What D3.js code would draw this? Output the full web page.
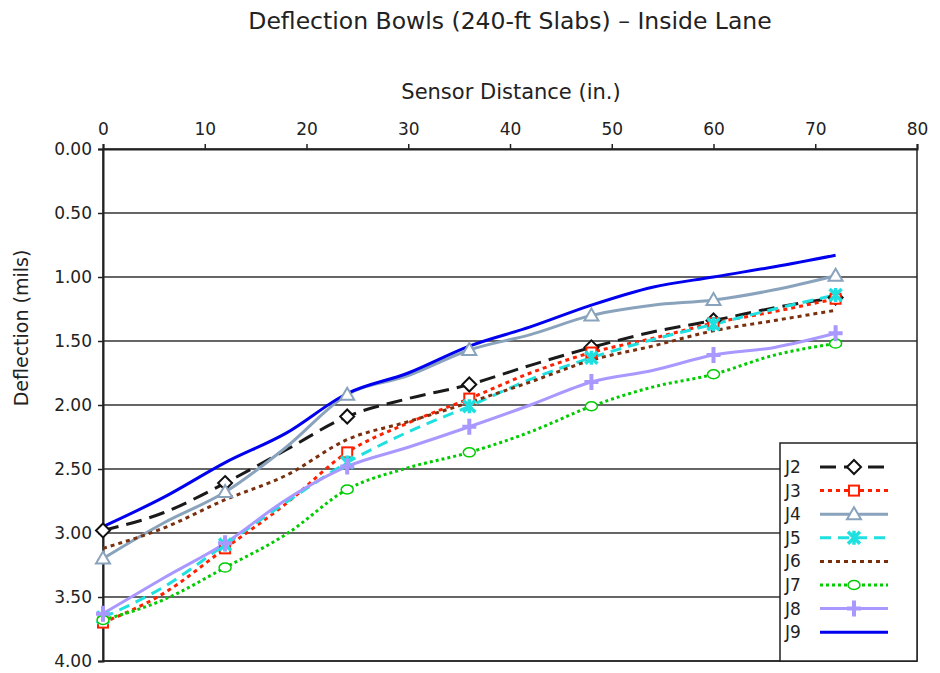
<!DOCTYPE html>
<html><head><meta charset="utf-8">
<script src="https://cdn.jsdelivr.net/npm/d3@7"></script>
<style>body{margin:0;background:#fff}svg{display:block;font-family:"DejaVu Sans",Arial,sans-serif}</style>
</head><body><svg id="c" width="940" height="673"></svg>
<script>
const distances = [0,6,12,18,24,30,36,42,48,54,60,66,72];
const markerDistances = [0,12,24,36,48,60,72];
const seriesNames = ["J2","J3","J4","J5","J6","J7","J8","J9"];
const J2 = [2.98,2.84,2.61,2.35,2.09,1.95,1.84,1.69,1.55,1.43,1.34,1.24,1.16];
const J3 = [3.70,3.47,3.12,2.77,2.37,2.14,1.95,1.75,1.59,1.48,1.36,1.27,1.17];
const J4 = [3.20,2.92,2.68,2.33,1.92,1.77,1.57,1.45,1.30,1.22,1.18,1.10,0.99];
const J5 = [3.66,3.42,3.09,2.76,2.45,2.21,2.01,1.80,1.63,1.49,1.37,1.25,1.14];
const J6 = [3.12,2.96,2.74,2.55,2.27,2.13,1.98,1.82,1.65,1.54,1.42,1.34,1.26];
const J7 = [3.68,3.52,3.27,3.01,2.66,2.49,2.37,2.21,2.01,1.86,1.76,1.61,1.52];
const J8 = [3.63,3.35,3.08,2.74,2.48,2.33,2.17,2.00,1.82,1.73,1.61,1.55,1.44];
const J9 = [2.95,2.72,2.45,2.22,1.91,1.75,1.54,1.39,1.22,1.08,1.00,0.92,0.83];
const xTicks = [0,10,20,30,40,50,60,70,80];
const yTicks = [0,0.5,1,1.5,2,2.5,3,3.5,4];

const values = {J2,J3,J4,J5,J6,J7,J8,J9};
const styles = {
  J2:{color:"#1a1a1a",dash:"16,8",width:3,marker:"diamond"},
  J3:{color:"#ff2000",dash:"4,4",width:3,marker:"square"},
  J4:{color:"#8aa3bd",dash:null,width:3,marker:"triangle"},
  J5:{color:"#1fe0e0",dash:"11,7",width:3,marker:"star"},
  J6:{color:"#7a300e",dash:"4,4",width:3,marker:null},
  J7:{color:"#00cc00",dash:"3,3",width:3,marker:"circle"},
  J8:{color:"#a898ff",dash:null,width:3,marker:"plus"},
  J9:{color:"#0000ee",dash:null,width:3,marker:null}
};

const svg = d3.select("#c");
const L=103,R=917,T=149,B=661;
const x = d3.scaleLinear().domain([0,80]).range([L,R]);
const y = d3.scaleLinear().domain([0,4]).range([T,B]);
const FONT = "DejaVu Sans, Arial, sans-serif";

svg.append("text").attr("x",510).attr("y",29).attr("text-anchor","middle")
  .attr("font-size",23.5).attr("fill","#222").text("Deflection Bowls (240-ft Slabs) – Inside Lane");
svg.append("text").attr("x",511).attr("y",99).attr("text-anchor","middle")
  .attr("font-size",21).attr("fill","#222").text("Sensor Distance (in.)");
svg.append("text").attr("transform","translate(28,328) rotate(-90)").attr("text-anchor","middle")
  .attr("font-size",19).attr("fill","#222").text("Deflection (mils)");

svg.append("g").selectAll("line").data(yTicks.slice(1)).join("line")
  .attr("x1",L).attr("x2",R).attr("y1",d=>y(d)).attr("y2",d=>y(d))
  .attr("stroke","#333").attr("stroke-width",1.3);

svg.append("rect").attr("x",L).attr("y",T).attr("width",R-L).attr("height",B-T)
  .attr("fill","none").attr("stroke","#222").attr("stroke-width",1.5);

const xAxis = svg.append("g").attr("transform",`translate(0,${T})`)
  .call(d3.axisTop(x).tickValues(xTicks).tickFormat(d3.format("d")).tickSize(5).tickPadding(9));
const yAxis = svg.append("g").attr("transform",`translate(${L},0)`)
  .call(d3.axisLeft(y).tickValues(yTicks).tickFormat(d3.format(".2f")).tickSize(5).tickPadding(6));
[xAxis,yAxis].forEach(a=>{
  a.select(".domain").attr("stroke","#222").attr("stroke-width",2);
  a.selectAll(".tick line").attr("stroke","#222").attr("stroke-width",1.5);
  a.selectAll(".tick text").attr("font-size",17).attr("fill","#222").attr("font-family",FONT);
});

const line = d3.line().x(d=>x(d[0])).y(d=>y(d[1])).curve(d3.curveMonotoneX);

function drawMarker(g, type, color, cx, cy){
  const m = g.append("g").attr("transform",`translate(${cx},${cy})`);
  if(type==="diamond") m.append("path").attr("d","M0,-7L7,0L0,7L-7,0Z").attr("fill","#fff").attr("stroke","#111").attr("stroke-width",2);
  if(type==="square") m.append("rect").attr("x",-5).attr("y",-5).attr("width",10).attr("height",10).attr("fill","#fff").attr("stroke",color).attr("stroke-width",2);
  if(type==="triangle") m.append("path").attr("d","M0,-7L7,5L-7,5Z").attr("fill","#fff").attr("stroke",color).attr("stroke-width",2);
  if(type==="circle") m.append("ellipse").attr("rx",6).attr("ry",4.5).attr("fill","#fff").attr("stroke",color).attr("stroke-width",1.5);
  if(type==="star") m.append("path").attr("d","M-6,-6L6,6M-6,6L6,-6M0,-7L0,7").attr("stroke",color).attr("stroke-width",3.5).attr("fill","none");
  if(type==="plus") m.append("path").attr("d","M-7,0L7,0M0,-8L0,8").attr("stroke",color).attr("stroke-width",4).attr("fill","none");
}

const plot = svg.append("g");
seriesNames.forEach(name=>{
  const s = styles[name];
  const pts = distances.map((d,i)=>[d,values[name][i]]);
  plot.append("path").datum(pts).attr("d",line).attr("fill","none")
    .attr("stroke",s.color).attr("stroke-width",s.width)
    .attr("stroke-dasharray",s.dash);
});
seriesNames.forEach(name=>{
  const s = styles[name];
  if(!s.marker) return;
  distances.forEach((d,i)=>{
    if(markerDistances.includes(d)) drawMarker(plot,s.marker,s.color,x(d),y(values[name][i]));
  });
});

const lg = svg.append("g");
lg.append("rect").attr("x",780).attr("y",443).attr("width",137).attr("height",218)
  .attr("fill","#fff").attr("stroke","#222").attr("stroke-width",1.5);
seriesNames.forEach((name,i)=>{
  const s = styles[name];
  const yy = 467 + i*23.6;
  lg.append("text").attr("x",785).attr("y",yy+6).attr("font-size",17).attr("fill","#222").text(name);
  lg.append("line").attr("x1",820).attr("x2",888).attr("y1",yy).attr("y2",yy)
    .attr("stroke",s.color).attr("stroke-width",s.width).attr("stroke-dasharray",s.dash);
  if(s.marker) drawMarker(lg,s.marker,s.color,854,yy);
});
</script></body></html>
